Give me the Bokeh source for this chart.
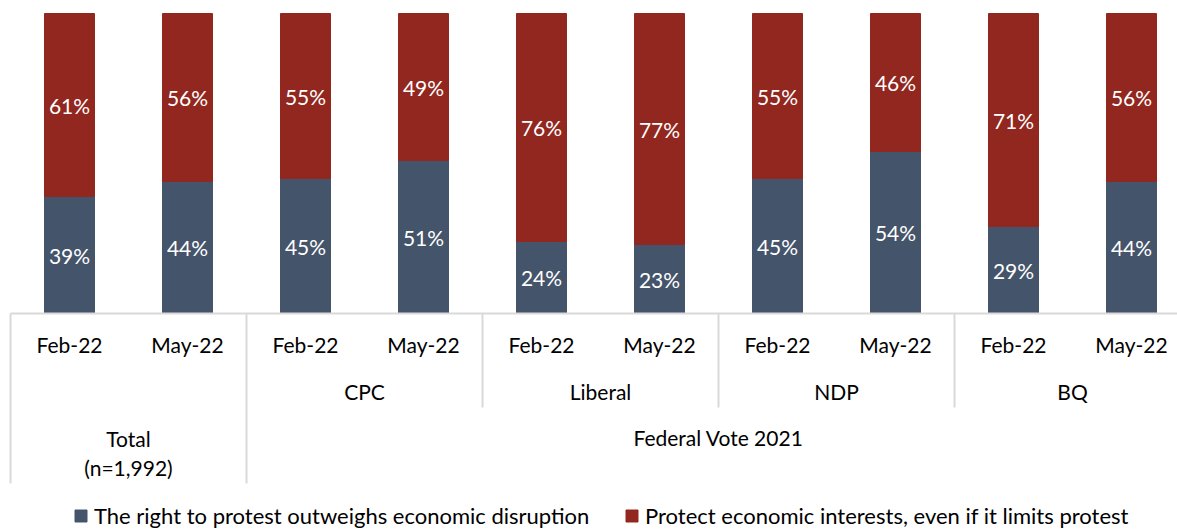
from bokeh.plotting import figure
from bokeh.models import ColumnDataSource, Range1d, Legend, LegendItem
from bokeh.core.properties import value
from bokeh.embed import file_html
from bokeh.resources import INLINE

# Survey waves and voter groups
periods = ["Feb-22", "May-22", "Feb-22", "May-22", "Feb-22", "May-22",
           "Feb-22", "May-22", "Feb-22", "May-22"]
parties = ["CPC", "Liberal", "NDP", "BQ"]
total_label = ["Total", "(n=1,992)"]
vote_label = "Federal Vote 2021"

# Share of respondents (%)
right_to_protest = [39, 44, 45, 51, 24, 23, 45, 54, 29, 44]
protect_economy = [61, 56, 55, 49, 76, 77, 55, 46, 71, 56]

series_names = ["The right to protest outweighs economic disruption",
                "Protect economic interests, even if it limits protest"]

BLUE = "#44546A"
RED = "#922720"
GRID = "#D9D9D9"
FONT_NAME = "Lato"
FONT = value(FONT_NAME)
FS = "21px"


def py(px):
    """Vertical pixel row -> data units (100% spans 300 px, baseline at row 313)."""
    return (313 - px) / 3


n = len(periods)
xs = [i + 0.5 for i in range(n)]

src = ColumnDataSource(dict(
    x=xs,
    protest=right_to_protest,
    economy=protect_economy,
    y_protest=[a / 2 for a in right_to_protest],
    y_economy=[a + b / 2 for a, b in zip(right_to_protest, protect_economy)],
    t_protest=[f"{a}%" for a in right_to_protest],
    t_economy=[f"{b}%" for b in protect_economy],
))

# one category slot = 118 px
p = figure(width=1177, height=529, title=None,
           x_range=Range1d(-10 / 118, 1167 / 118),
           y_range=Range1d(py(529), py(0)),
           x_axis_location=None, y_axis_location=None,
           toolbar_location=None, output_backend="svg",
           min_border=0, outline_line_color=None)
p.grid.visible = False

bars = p.vbar_stack(["protest", "economy"], x="x", width=50 / 118,
                    source=src, color=[BLUE, RED], line_color=[BLUE, RED])

for ycol, tcol in (("y_protest", "t_protest"), ("y_economy", "t_economy")):
    p.text(x="x", y=ycol, text=tcol, source=src, text_color="white",
           text_font=FONT, text_font_size=FS, text_align="center",
           text_baseline="middle")

# category axis frame
p.segment(x0=[0], y0=[0], x1=[n], y1=[0], line_color=GRID, line_width=2)
long_sep = [0, 2]
short_sep = [4, 6, 8, 10]
p.segment(x0=long_sep, y0=[0] * 2, x1=long_sep, y1=[py(483)] * 2,
          line_color=GRID, line_width=2)
p.segment(x0=short_sep, y0=[0] * 4, x1=short_sep, y1=[py(407)] * 4,
          line_color=GRID, line_width=2)

axis_text = dict(text_font=FONT, text_font_size=FS, text_color="#000000",
                 text_align="center", text_baseline="middle")
p.text(x=xs, y=[py(344)] * n, text=periods, **axis_text)
p.text(x=[3 + 2 * i for i in range(len(parties))],
       y=[py(391)] * len(parties), text=parties, **axis_text)
p.text(x=[1, 1], y=[py(438), py(467)], text=total_label, **axis_text)
p.text(x=[6], y=[py(437)], text=[vote_label], **axis_text)

# legend, one entry per series
for r, name, px in zip(bars, series_names, (73, 624)):
    leg = Legend(items=[LegendItem(label=name, renderers=[r])],
                 location=(px, 0), orientation="horizontal",
                 padding=0, margin=0, spacing=0, label_standoff=6,
                 glyph_width=15, glyph_height=15, label_height=15,
                 border_line_color=None, background_fill_alpha=0,
                 label_text_font=FONT_NAME, label_text_font_size="22px",
                 label_text_color="#000000")
    p.add_layout(leg, "center")

open("out.html", "w").write(file_html(p, INLINE))
